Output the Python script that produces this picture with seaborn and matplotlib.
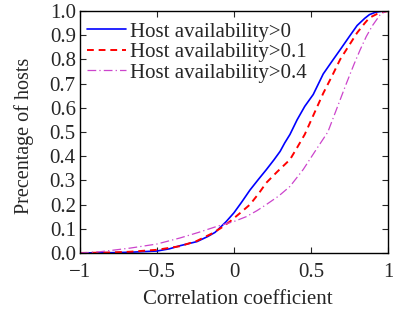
import numpy as np
import pandas as pd
import matplotlib
matplotlib.use("Agg")
import matplotlib.pyplot as plt
import seaborn as sns
from matplotlib.ticker import FixedLocator, FixedFormatter

sns.set_style("ticks")
plt.rcParams['font.family'] = ['Liberation Serif', 'DejaVu Serif']

labels = ["Host availability>0", "Host availability>0.1", "Host availability>0.4"]

x_a0 = [-1.0, -0.8, -0.675, -0.5, -0.42, -0.35, -0.24, -0.17, -0.123, -0.09, -0.05, 0.0, 0.05,
        0.104, 0.16, 0.21, 0.26, 0.30, 0.33, 0.364, 0.41, 0.46, 0.515, 0.58, 0.64, 0.69, 0.75,
        0.80, 0.85, 0.88, 0.92, 0.96, 1.0]
y_a0 = [0.0, 0.001, 0.003, 0.008, 0.017, 0.030, 0.047, 0.068, 0.085, 0.105, 0.13, 0.166, 0.21,
        0.26, 0.305, 0.344, 0.385, 0.42, 0.455, 0.49, 0.55, 0.606, 0.655, 0.74, 0.795, 0.84, 0.895,
        0.94, 0.97, 0.985, 0.995, 0.999, 1.0]

x_a1 = [-1.0, -0.8, -0.675, -0.5, -0.35, -0.24, -0.135, -0.08, -0.026, 0.04, 0.104, 0.16, 0.21,
        0.28, 0.364, 0.41, 0.46, 0.52, 0.58, 0.64, 0.69, 0.75, 0.80, 0.85, 0.88, 0.93, 0.97, 1.0]
y_a1 = [0.0, 0.002, 0.005, 0.013, 0.028, 0.05, 0.083, 0.105, 0.13, 0.165, 0.20, 0.245, 0.29,
        0.335, 0.386, 0.435, 0.49, 0.575, 0.66, 0.735, 0.80, 0.86, 0.91, 0.95, 0.972, 0.988, 0.996, 1.0]

x_a4 = [-1.0, -0.87, -0.675, -0.5, -0.35, -0.23, -0.11, 0.0, 0.08, 0.15, 0.21, 0.29, 0.364, 0.45,
        0.537, 0.61, 0.67, 0.73, 0.78, 0.82, 0.86, 0.90, 0.95, 0.98, 1.0]
y_a4 = [0.0, 0.005, 0.02, 0.037, 0.062, 0.085, 0.11, 0.13, 0.15, 0.175, 0.20, 0.235, 0.275, 0.345,
        0.43, 0.5, 0.6, 0.70, 0.78, 0.84, 0.895, 0.94, 0.985, 0.997, 1.0]

x_ticks = [-1, -0.5, 0, 0.5, 1]
x_ticklabels = ["\u22121", "\u22120.5", "0", "0.5", "1"]
y_ticks = [0.0, 0.1, 0.2, 0.3, 0.4, 0.5, 0.6, 0.7, 0.8, 0.9, 1.0]

df = pd.concat([
    pd.DataFrame({"x": x_a0, "y": y_a0, "s": labels[0]}),
    pd.DataFrame({"x": x_a1, "y": y_a1, "s": labels[1]}),
    pd.DataFrame({"x": x_a4, "y": y_a4, "s": labels[2]}),
])

fig = plt.figure(figsize=(3.93, 3.10), dpi=100)
ax = fig.add_axes([0.2036, 0.184, 0.7834, 0.7805])

colors = {labels[0]: "#0000ff", labels[1]: "#ff0000", labels[2]: "#cc44cc"}
widths = {labels[0]: 1.2, labels[1]: 1.4, labels[2]: 0.9}
styles = {labels[0]: '-', labels[1]: (0, (3.5, 2.5)), labels[2]: (0, (7, 2.5, 1, 2.5))}
for lab in labels:
    sub = df[df.s == lab]
    sns.lineplot(data=sub, x="x", y="y", ax=ax, color=colors[lab], lw=widths[lab],
                 linestyle=styles[lab], label=lab, sort=False)

fs = 15
ax.set_xlim(-1, 1)
ax.set_ylim(0, 1)
ax.xaxis.set_major_locator(FixedLocator(x_ticks))
ax.xaxis.set_major_formatter(FixedFormatter(x_ticklabels))
ax.yaxis.set_major_locator(FixedLocator(y_ticks))
ax.set_yticklabels([f"{v:.1f}" for v in y_ticks])
ax.tick_params(direction='in', top=True, right=True, length=4, width=0.8, labelsize=fs)
ax.tick_params(axis='x', pad=7)
ax.tick_params(axis='y', pad=3)
for sp in ax.spines.values():
    sp.set_linewidth(1.0)
    sp.set_color('black')
ax.set_xlabel("Correlation coefficient", fontsize=fs, labelpad=6, x=0.513)
ax.set_ylabel("Precentage of hosts", fontsize=14.5, labelpad=11, y=0.483)

leg = ax.legend(loc='upper left', bbox_to_anchor=(0.0, 0.985), frameon=False, fontsize=fs,
                handlelength=1.85, borderaxespad=0.15, labelspacing=0.05, handletextpad=0.2,
                borderpad=0.2)

fig.savefig("out.png", dpi=100)
